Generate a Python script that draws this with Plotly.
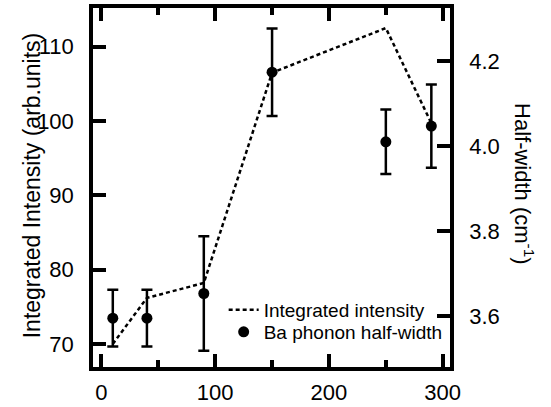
import plotly.graph_objects as go

# Data
temps = [10, 40, 90, 150, 250, 290]
intensity = [70.0, 76.2, 78.2, 106.5, 112.5, 99.7]
hw_temps = [10, 40, 90, 150, 250, 290]
halfwidth = [3.595, 3.595, 3.653, 4.174, 4.010, 4.047]
hw_err = [0.067, 0.067, 0.135, 0.103, 0.076, 0.098]

x_ticks = [0, 100, 200, 300]
x_minor = [50, 150, 250]
y_ticks = [70, 80, 90, 100, 110]
y2_ticks = [3.6, 3.8, 4.0, 4.2]
y2_labels = ["3.6", "3.8", "4.0", "4.2"]

FONT = "Liberation Sans, Arial, Helvetica, sans-serif"
X_RANGE = [-7.4, 306.4]

fig = go.Figure()
fig.add_trace(go.Scatter(
    x=temps, y=intensity, mode="lines", name="Integrated intensity",
    line=dict(color="black", width=2.5, dash="4px,3px"),
    xaxis="x", yaxis="y", legend="legend"))
fig.add_trace(go.Scatter(
    x=hw_temps, y=halfwidth, mode="markers", name="Ba phonon half-width",
    marker=dict(color="black", size=11),
    error_y=dict(type="data", array=hw_err, color="black", thickness=2.5, width=5.5),
    xaxis="x", yaxis="y2", legend="legend2"))
# invisible companion trace so that the top (mirror) x axis gets drawn
fig.add_trace(go.Scatter(
    x=temps, y=intensity, mode="lines", line=dict(color="rgba(0,0,0,0)", width=0),
    showlegend=False, hoverinfo="skip", xaxis="x2", yaxis="y"))

axis_common = dict(showgrid=False, zeroline=False, showline=True, linecolor="black",
                   linewidth=3.5, ticks="inside", tickcolor="black", tickwidth=3.5,
                   automargin=False,
                   tickfont=dict(family=FONT, size=22, color="black"))

minor_ticks = dict(tickvals=x_minor, ticks="inside", ticklen=7, tickwidth=3.5,
                   tickcolor="black")

legend_common = dict(xanchor="left", yanchor="middle", bgcolor="rgba(0,0,0,0)",
                     font=dict(family=FONT, size=19, color="black"))

fig.update_layout(
    width=551, height=407,
    margin=dict(l=93, r=101, t=8, b=40, autoexpand=False),
    paper_bgcolor="white", plot_bgcolor="white",
    font=dict(family=FONT, color="black"),
    showlegend=True,
    legend=dict(x=0.366, y=0.159, **legend_common),
    legend2=dict(x=0.366, y=0.0975, **legend_common),
    xaxis=dict(range=X_RANGE, tickvals=x_ticks, ticklen=13, mirror=True,
               ticklabelstandoff=3, minor=minor_ticks, **axis_common),
    xaxis2=dict(range=X_RANGE, tickvals=x_ticks, ticklen=13, overlaying="x",
                side="top", anchor="y", showgrid=False, zeroline=False,
                showline=True, linecolor="black", linewidth=3.5,
                automargin=False,
                ticks="inside", tickcolor="black", tickwidth=3.5, showticklabels=False,
                minor=minor_ticks),
    yaxis=dict(range=[66.9, 115.2], tickvals=y_ticks, ticklen=13, ticklabelstandoff=11,
               **axis_common),
    yaxis2=dict(range=[3.48, 4.325], tickvals=y2_ticks, ticktext=y2_labels, ticklen=13,
                overlaying="y", side="right", ticklabelstandoff=11, **axis_common),
    annotations=[
        dict(text="Integrated Intensity (arb.units)", xref="paper", yref="paper",
             x=-0.172, y=0.505, xanchor="center", yanchor="middle", textangle=-90,
             showarrow=False, font=dict(family=FONT, size=23, color="black")),
        dict(text="Half-width (cm<sup>-1</sup>)", xref="paper", yref="paper",
             x=1.207, y=0.51, xanchor="center", yanchor="middle", textangle=90,
             showarrow=False, font=dict(family=FONT, size=22, color="black")),
    ],
)

fig.write_html("out.html", config={"displayModeBar": False},
               post_script="document.body.style.margin='0';document.body.style.overflow='hidden';")
